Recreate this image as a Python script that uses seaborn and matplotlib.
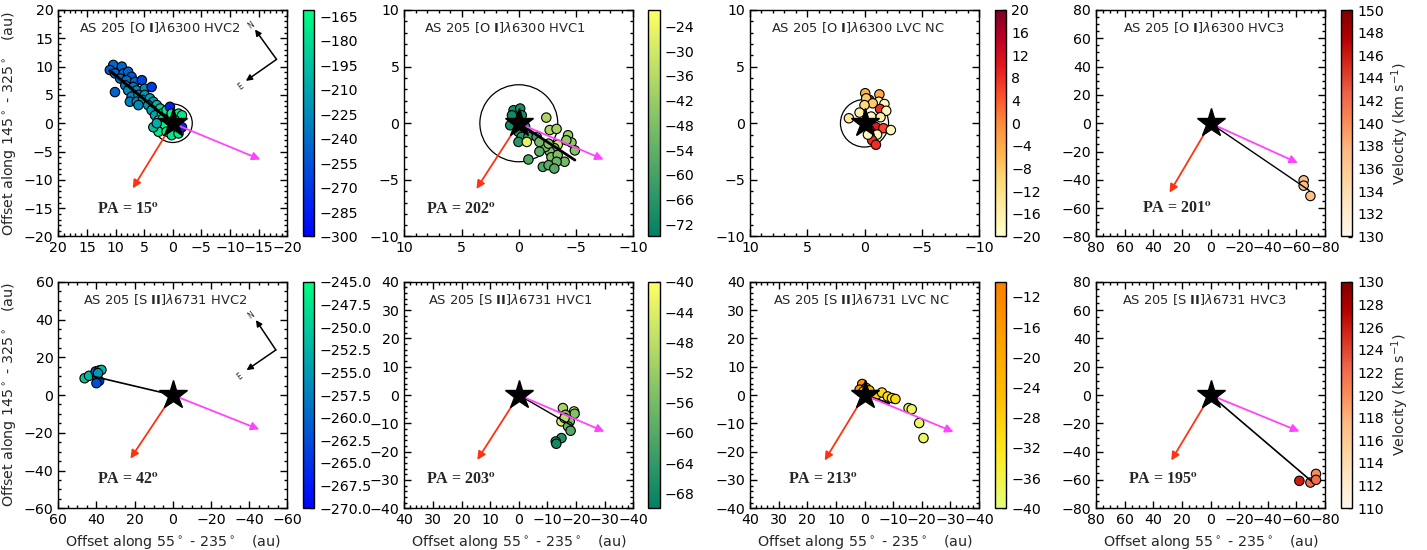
import numpy as np
import pandas as pd
import matplotlib
matplotlib.use("Agg")
import matplotlib.pyplot as plt
import seaborn as sns
from matplotlib.ticker import AutoMinorLocator
from matplotlib.patches import Circle
from matplotlib.colors import Normalize
from matplotlib.cm import ScalarMappable

# ---- data (offsets in au, velocities in km/s) ----
# [O I] 6300 HVC2
oi_hvc2_x = [10.4, 11.0, 8.9, 10.1, 8.6, 7.8, 7.2, 9.2, 8.1, 6.6, 8.3, 6.9, 5.4, 10.1, 7.8, 6.3, 4.9,
             3.7, 7.2, 6.0, 4.9, 7.5, 6.3, 5.2, 4.0, 3.4, 6.0, 4.3, 2.8, 3.7, 2.2, 3.1, 1.9, 1.1,
             0.5, 2.5, 1.7, 0.2, -1.0, -1.6, 2.2, 1.4, 2.5, 1.1, 0.2, -1.0, -1.6, -0.3, 3.4, 2.8]
oi_hvc2_y = [10.3, 9.4, 10.0, 8.8, 8.8, 9.1, 8.2, 7.9, 7.6, 7.3, 6.7, 6.4, 7.6, 5.5, 5.8, 5.8, 6.1,
             6.4, 4.7, 5.0, 5.0, 3.8, 3.8, 4.1, 4.4, 3.8, 3.2, 3.2, 3.2, 2.3, 2.6, 1.4, 1.7, 2.3,
             2.9, 0.5, 0.8, 1.7, 1.7, 1.4, -0.7, -0.4, -1.5, -1.5, -2.1, -1.8, -0.7, 0.6, -0.7, 0.0]
oi_hvc2_v = [-245, -250, -245, -245, -242, -245, -248, -240, -240, -245, -235, -235, -262, -245, -225,
             -225, -222, -268, -228, -222, -220, -230, -225, -220, -215, -215, -225, -218, -200, -212,
             -185, -210, -180, -175, -280, -178, -172, -170, -172, -175, -170, -168, -172, -170, -175,
             -172, -275, -168, -195, -205]

# [O I] 6300 HVC1
oi_hvc1_x = [0.46, -0.12, 0.6, -0.26, 0.75, -0.55, 0.03, -0.26, 0.03, -0.84, -1.56, -0.7, -2.4, -2.7,
             -3.3, -4.3, -4.6, -4.9, -4.15, -3.4, -3.1, -2.7, -2.3, -1.8, -2.85, -3.4, -4.0, -3.3,
             -2.1, -2.6, -3.1, -0.84, -1.8, -2.6]
oi_hvc1_y = [1.15, 1.3, 0.7, 0.7, -0.18, -0.3, -0.76, -1.2, -1.65, -1.2, -1.2, -1.65, 0.5, -0.6,
             -0.5, -1.06, -1.7, -2.4, -1.5, -1.9, -2.2, -2.5, -2.1, -2.5, -3.0, -2.8, -3.4, -3.4,
             -3.85, -3.7, -4.0, -3.2, -1.65, -1.8]
oi_hvc1_v = [-70, -70, -71, -69, -70, -68, -70, -66, -66, -62, -60, -26, -38, -38,
             -40, -42, -44, -46, -44, -30, -45, -48, -50, -55, -48, -48, -50, -52,
             -58, -56, -56, -58, -50, -45]

# [O I] 6300 LVC NC
oi_lvc_x = [-0.06, -1.3, -0.43, -1.25, -1.74, -0.15, -0.72, 0.0, -1.36, -1.9, 0.43, -1.4, 1.36, -0.58,
            -1.0, -1.65, -2.3, -0.43, -0.15, -1.1, -0.67, -1.0, -0.3]
oi_lvc_y = [2.65, 2.55, 2.06, 1.9, 1.7, 2.2, 1.76, 1.6, 1.26, 1.1, 0.94, 0.53, 0.44, 0.59,
            -0.35, -0.44, -0.6, -0.6, -0.24, -1.0, -1.5, -1.9, -1.0]
oi_lvc_v = [-5, -4, 10, -18, -18, -8, -8, -10, 8, -18, -16, -16, -14, -18,
            10, 6, -18, 18, 16, -18, 8, 8, -18]

# [O I] 6300 HVC3
oi_hvc3_x = [-65.1, -65.1, -69.8]
oi_hvc3_y = [-40.3, -44.1, -51.4]
oi_hvc3_v = [137, 137, 137]

# [S II] 6731 HVC2
sii_hvc2_x = [46.2, 43.9, 40.4, 38.6, 37.4, 39.7, 38.6, 40.0, 39.2]
sii_hvc2_y = [8.9, 10.2, 12.5, 13.0, 13.3, 9.8, 7.5, 6.3, 11.6]
sii_hvc2_v = [-250, -252, -262, -255, -252, -262, -265, -262, -255]

# [S II] 6731 HVC1
sii_hvc1_x = [-15.4, -19.3, -19.5, -16.3, -14.9, -17.8, -17.2, -18.1, -14.9, -12.9, -13.1, -16.0]
sii_hvc1_y = [-4.6, -5.8, -6.6, -7.0, -9.3, -9.3, -11.1, -12.6, -15.2, -16.4, -17.2, -8.1]
sii_hvc1_v = [-50, -46, -55, -54, -44, -56, -58, -60, -66, -66, -68, -48]

# [S II] 6731 LVC NC
sii_lvc_x = [0.8, 1.7, -0.6, -1.7, -4.1, -6.1, -8.1, -9.6, -10.8, -15.4, -16.5, -19.1, -20.6, 0.35]
sii_lvc_y = [3.9, 1.9, 2.5, 1.65, 0.0, 0.9, -0.5, -1.1, -1.4, -4.6, -5.0, -9.9, -15.2, 1.3]
sii_lvc_v = [-14, -16, -18, -24, -28, -30, -30, -33, -30, -38, -38, -38, -38, -28]

# [S II] 6731 HVC3
sii_hvc3_x = [-62.1, -69.8, -73.7, -73.7]
sii_hvc3_y = [-60.6, -61.8, -55.7, -59.9]
sii_hvc3_v = [126, 122, 120, 122]

titles = [r"AS 205 [O $\mathbf{I}$]$\lambda$6300 HVC2", r"AS 205 [O $\mathbf{I}$]$\lambda$6300 HVC1",
          r"AS 205 [O $\mathbf{I}$]$\lambda$6300 LVC NC", r"AS 205 [O $\mathbf{I}$]$\lambda$6300 HVC3",
          r"AS 205 [S $\mathbf{II}$]$\lambda$6731 HVC2", r"AS 205 [S $\mathbf{II}$]$\lambda$6731 HVC1",
          r"AS 205 [S $\mathbf{II}$]$\lambda$6731 LVC NC", r"AS 205 [S $\mathbf{II}$]$\lambda$6731 HVC3"]
pa_labels = ["15", "202", None, "201", "42", "203", "213", "195"]

cbar_ticks = [
    [-300, -285, -270, -255, -240, -225, -210, -195, -180, -165],
    [-72, -66, -60, -54, -48, -42, -36, -30, -24],
    [-20, -16, -12, -8, -4, 0, 4, 8, 12, 16, 20],
    [130, 132, 134, 136, 138, 140, 142, 144, 146, 148, 150],
    [-270.0, -267.5, -265.0, -262.5, -260.0, -257.5, -255.0, -252.5, -250.0, -247.5, -245.0],
    [-68, -64, -60, -56, -52, -48, -44, -40],
    [-40, -36, -32, -28, -24, -20, -16, -12],
    [110, 112, 114, 116, 118, 120, 122, 124, 126, 128, 130],
]

# jet fit line end, and the two reference arrows (magenta, red) tips
fit_ends = [(11.0, 9.3), (-4.9, -3.25), None, (-69.0, -47.5), (42.0, 10.0), (-18.5, -10.8), (-8.5, -3.0), (-70.5, -60.8)]
magenta_tips = [(-15.3, -6.4), (-7.4, -3.2), None, (-61.0, -28.0), (-45.3, -18.2), (-29.9, -12.9), (-31.1, -13.0), (-62.1, -25.7)]
red_tips = [(7.0, -11.5), (3.7, -5.8), None, (28.6, -49.0), (22.2, -33.7), (14.5, -22.9), (13.9, -23.1), (27.4, -46.2)]

# ---- figure ----
sns.set_theme(style="ticks", rc={
    "xtick.direction": "in", "ytick.direction": "in",
    "xtick.top": True, "ytick.right": True,
    "xtick.major.size": 5, "ytick.major.size": 5,
    "xtick.minor.size": 2.5, "ytick.minor.size": 2.5,
    "xtick.major.width": 1, "ytick.major.width": 1,
    "axes.edgecolor": "black", "axes.linewidth": 1.0,
    "xtick.color": "black", "ytick.color": "black",
    "xtick.labelsize": 10.2, "ytick.labelsize": 10.2,
})
plt.rcParams["font.family"] = ["DejaVu Sans"]

fig = plt.figure(figsize=(14.27, 5.5), dpi=100)

xs = [oi_hvc2_x, oi_hvc1_x, oi_lvc_x, oi_hvc3_x, sii_hvc2_x, sii_hvc1_x, sii_lvc_x, sii_hvc3_x]
ys = [oi_hvc2_y, oi_hvc1_y, oi_lvc_y, oi_hvc3_y, sii_hvc2_y, sii_hvc1_y, sii_lvc_y, sii_hvc3_y]
vs = [oi_hvc2_v, oi_hvc1_v, oi_lvc_v, oi_hvc3_v, sii_hvc2_v, sii_hvc1_v, sii_lvc_v, sii_hvc3_v]
cmaps = ["winter", "summer", "YlOrRd", "OrRd", "winter", "summer", "Wistia", "OrRd"]
vlims = [(-300, -161), (-75, -20), (-20, 20), (130, 150), (-270, -245), (-70, -40), (-40, -10), (110, 130)]
lims = [20, 10, 10, 80, 60, 40, 40, 80]
steps = [5, 5, 5, 20, 20, 10, 10, 20]
circles = [3.4, 3.4, 2.1, None, None, None, None, None]
fit_lw = [2.2, 2.0, 1, 1.0, 1.2, 1.0, 1.8, 1.2]
title_x = [0.444, 0.44, 0.47, 0.47, 0.466, 0.46, 0.487, 0.473]
pa_pos = [(0.167, 0.115), (0.094, 0.115), None, (0.203, 0.122), (0.167, 0.125), (0.094, 0.125), (0.164, 0.125), (0.14, 0.125)]

col_left = [58.3, 404.3, 750.0, 1096.0]
cb_left = [302.7, 648.3, 994.7, 1340.7]
row_bottom = [1 - 236.5 / 550, 1 - 508.3 / 550]
W, H = 1427.0, 550.0

for i in range(8):
    r, c = divmod(i, 4)
    ax = fig.add_axes([col_left[c] / W, row_bottom[r], 229 / W, 226.5 / H])
    cax = fig.add_axes([cb_left[c] / W, row_bottom[r], 11.5 / W, 226.5 / H])

    df = pd.DataFrame({"x": xs[i], "y": ys[i], "v": vs[i]})
    sns.scatterplot(data=df, x="x", y="y", hue="v", palette=cmaps[i], hue_norm=vlims[i],
                    s=46, edgecolor="black", linewidth=0.8, legend=False, ax=ax, zorder=3)

    lim = lims[i]
    if circles[i]:
        ax.add_patch(Circle((0, 0), circles[i], fill=False, ec="black", lw=0.9, zorder=2))
    if fit_ends[i]:
        ax.plot([0, fit_ends[i][0]], [0, fit_ends[i][1]], color="black", lw=fit_lw[i], zorder=4)
    if magenta_tips[i]:
        ax.annotate("", xy=magenta_tips[i], xytext=(0, 0),
                    arrowprops=dict(arrowstyle="-|>", color="#ff44ff", lw=1.3,
                                    mutation_scale=12, shrinkA=0, shrinkB=0), zorder=4)
        ax.annotate("", xy=red_tips[i], xytext=(0, 0),
                    arrowprops=dict(arrowstyle="-|>", color="#ff3311", lw=1.3,
                                    mutation_scale=12, shrinkA=0, shrinkB=0), zorder=4)
    ax.plot([0], [0], marker="*", ms=21, color="black", zorder=6)

    ax.set_xlim(lim, -lim)
    ax.set_ylim(-lim, lim)
    ax.set_xticks(np.arange(-lim, lim + 1, steps[i]))
    ax.set_yticks(np.arange(-lim, lim + 1, steps[i]))
    ax.xaxis.set_minor_locator(AutoMinorLocator())
    ax.yaxis.set_minor_locator(AutoMinorLocator())
    ax.tick_params(which="both", direction="in", top=True, right=True)
    ax.set_xlabel("")
    ax.set_ylabel("")

    ax.text(title_x[i], 0.923, titles[i], transform=ax.transAxes, ha="center", va="center", fontsize=9.4)
    if pa_labels[i]:
        ax.text(pa_pos[i][0], pa_pos[i][1], r"PA = " + pa_labels[i] + r"$^{\mathbf{o}}$",
                transform=ax.transAxes, ha="left", va="center", fontsize=11.5,
                fontfamily="Liberation Serif", fontweight="bold", math_fontfamily="stix")

    if c == 0:
        ax.set_ylabel(r"Offset along 145$^\circ$ - 325$^\circ$   (au)", fontsize=10.3)
        if r == 0:
            v0, nt, et = (0.953, 0.782), (0.859, 0.914), (0.819, 0.687)
            nl, el = (0.84, 0.934), (0.796, 0.664)
        else:
            v0, nt, et = (0.950, 0.699), (0.863, 0.831), (0.822, 0.610)
            nl, el = (0.84, 0.853), (0.793, 0.581)
        for tip in (nt, et):
            ax.annotate("", xy=tip, xytext=v0, xycoords="axes fraction", textcoords="axes fraction",
                        arrowprops=dict(arrowstyle="-|>", color="black", lw=1.1,
                                        mutation_scale=9, shrinkA=0, shrinkB=0))
        ax.text(nl[0], nl[1], "N", transform=ax.transAxes, fontsize=5.5, rotation=36,
                ha="center", va="center")
        ax.text(el[0], el[1], "E", transform=ax.transAxes, fontsize=5.5, rotation=36,
                ha="center", va="center")
    if r == 1:
        ax.set_xlabel(r"Offset along 55$^\circ$ - 235$^\circ$   (au)", fontsize=10.3)

    sm = ScalarMappable(norm=Normalize(*vlims[i]), cmap=cmaps[i])
    cb = fig.colorbar(sm, cax=cax, ticks=cbar_ticks[i])
    cb.outline.set_linewidth(1.0)
    cax.tick_params(direction="in", length=3, labelsize=10.2, right=True, left=False)
    if i == 4:
        cb.ax.set_yticks(cbar_ticks[i])
        cb.ax.set_yticklabels(["\u2212%.1f" % abs(t) for t in cbar_ticks[i]])
    if c == 3:
        cb.set_label(r"Velocity (km s$^{-1}$)", fontsize=10.3)

fig.savefig("out.png", dpi=100)
